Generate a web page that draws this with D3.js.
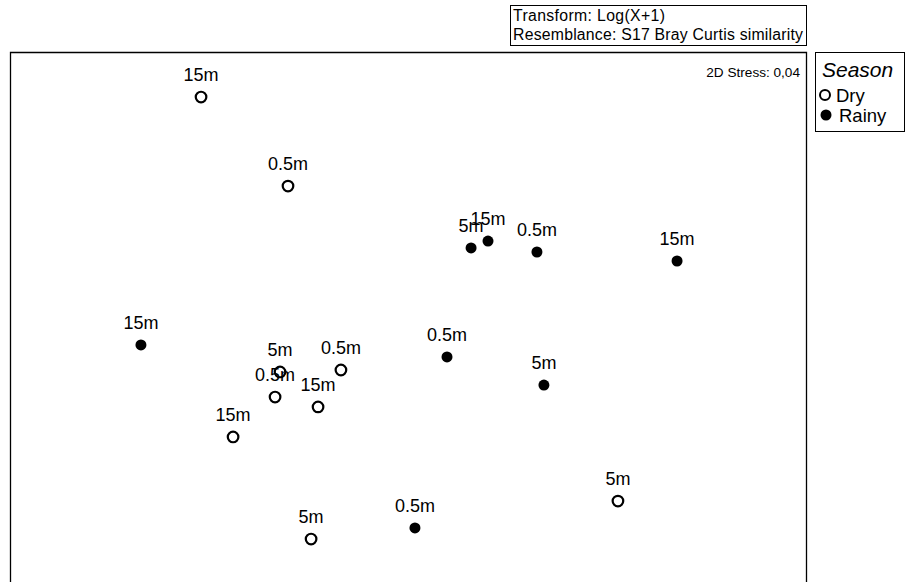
<!DOCTYPE html>
<html><head><meta charset="utf-8">
<script src="https://cdn.jsdelivr.net/npm/d3@7"></script>
<style>body{margin:0;background:#fff}svg{display:block}text{font-family:"Liberation Sans",Arial,sans-serif}</style>
</head><body>
<svg id="c" width="909" height="582"></svg>
<script>
// nMDS coordinates (arbitrary units)
const dryX = [-1.040, -0.603, -0.643, -0.337, -0.668, -0.452, -0.879, -0.487, 1.055];
const dryY = [1.245, 0.741, -0.311, -0.300, -0.453, -0.509, -0.679, -1.257, -1.042];
const dryLabels = ["15m", "0.5m", "5m", "0.5m", "0.5m", "15m", "15m", "5m", "5m"];
const rainyX = [0.317, 0.402, 0.648, 1.352, -1.342, 0.196, 0.683, 0.035];
const rainyY = [0.391, 0.430, 0.368, 0.317, -0.158, -0.226, -0.385, -1.194];
const rainyLabels = ["5m", "15m", "0.5m", "15m", "15m", "0.5m", "5m", "0.5m"];
const seasons = ["Dry", "Rainy"];
const infoLines = ["Transform: Log(X+1)", "Resemblance: S17 Bray Curtis similarity"];
const stressText = "2D Stress: 0,04";

const svg = d3.select("#c");
const L = 10.5, T = 52.5, R = 806.5, B = 582;
const x = d3.scaleLinear().domain([-2, 2]).range([10, 806]);
const y = d3.scaleLinear().domain([-1.5, 1.5]).range([582, 52]);

svg.append("path").attr("d", `M${L},${B+5}V${T}H${R}V${B+5}`)
  .attr("fill", "none").attr("stroke", "#000").attr("stroke-width", 1.3);

// info box
svg.append("rect").attr("x", 510.5).attr("y", 5.5).attr("width", 296).attr("height", 40)
  .attr("fill", "#fff").attr("stroke", "#000").attr("stroke-width", 1);
svg.selectAll("text.info").data(infoLines).enter().append("text")
  .attr("x", 513).attr("y", (d, i) => 21 + i * 19).attr("font-size", 15.8)
  .attr("textLength", (d, i) => i ? 290 : 152).text(d => d);

svg.append("text").attr("x", 800).attr("y", 77).attr("text-anchor", "end")
  .attr("font-size", 13.6).text(stressText);

const data = [];
dryX.forEach((v, i) => data.push({x: v, y: dryY[i], label: dryLabels[i], s: 0}));
rainyX.forEach((v, i) => data.push({x: v, y: rainyY[i], label: rainyLabels[i], s: 1}));

const g = svg.append("g");
g.selectAll("circle").data(data).enter().append("circle")
  .attr("cx", d => x(d.x)).attr("cy", d => y(d.y))
  .attr("r", d => d.s ? 5.5 : 5.3)
  .attr("fill", d => d.s ? "#000" : "#fff")
  .attr("stroke", "#000").attr("stroke-width", d => d.s ? 0 : 2.2);
g.selectAll("text").data(data).enter().append("text")
  .attr("x", d => x(d.x)).attr("y", d => y(d.y) - 16)
  .attr("text-anchor", "middle").attr("font-size", 18).text(d => d.label);

// legend
const lg = svg.append("g");
lg.append("rect").attr("x", 815.5).attr("y", 52.5).attr("width", 89).attr("height", 79)
  .attr("fill", "#fff").attr("stroke", "#000").attr("stroke-width", 1);
lg.append("text").attr("x", 822).attr("y", 77).attr("font-size", 21).attr("font-style", "italic").text("Season");
seasons.forEach((s, i) => {
  const cy = 95 + i * 20;
  lg.append("circle").attr("cx", i ? 826 : 825).attr("cy", cy).attr("r", i ? 5.5 : 5)
    .attr("fill", i ? "#000" : "#fff").attr("stroke", "#000").attr("stroke-width", i ? 0 : 2);
  lg.append("text").attr("x", i ? 839 : 836).attr("y", cy + 6.5).attr("font-size", 18.5).text(s);
});
</script>
</body></html>
